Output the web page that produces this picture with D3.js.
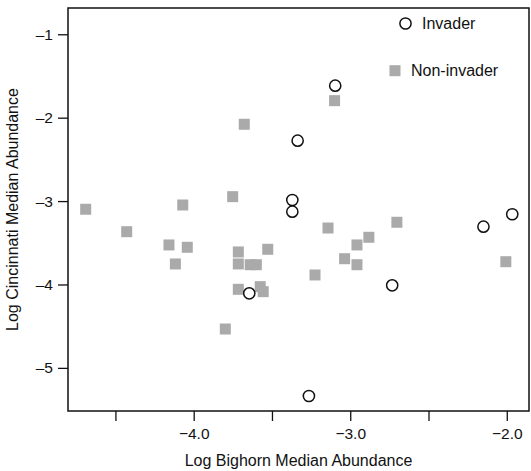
<!DOCTYPE html>
<html>
<head>
<meta charset="utf-8">
<script src="https://cdn.jsdelivr.net/npm/d3@7"></script>
<style>
  body { margin: 0; background: #fff; }
  svg text { font-family: "Liberation Sans", Arial, Helvetica, sans-serif; fill: #111; }
</style>
</head>
<body>
<div id="chart"></div>
<script>
// invaders (open circles)
var invaderX = [-3.096, -3.336, -3.370, -3.370, -3.645, -2.732, -2.149, -1.965, -3.264];
var invaderY = [-1.616, -2.276, -2.987, -3.127, -4.106, -4.010, -3.307, -3.158, -5.337];

// non-invaders (grey squares)
var nonInvX = [-4.690, -4.428, -4.158, -4.117, -4.041, -4.070, -3.751, -3.677, -3.715,
               -3.715, -3.639, -3.600, -3.527, -3.715, -3.575, -3.556, -3.798, -3.100,
               -3.142, -3.225, -2.957, -2.881, -3.036, -2.957, -2.702, -2.006];
var nonInvY = [-3.098, -3.367, -3.526, -3.754, -3.554, -3.047, -2.947, -2.079, -3.610,
               -3.754, -3.763, -3.763, -3.578, -4.058, -4.026, -4.086, -4.534, -1.796,
               -3.323, -3.886, -3.526, -3.434, -3.691, -3.763, -3.254, -3.727];

var xTicks = [-4.5, -4.0, -3.5, -3.0, -2.5, -2.0];
var xTickLabels = [-4.0, -3.0, -2.0];
var yTicks = [-1, -2, -3, -4, -5];
var legendNames = ["Invader", "Non-invader"];

var width = 531, height = 471;
var margin = {left: 68, right: 2, top: 8, bottom: 60};

var svg = d3.select("#chart")
    .append("svg")
    .attr("width", width)
    .attr("height", height);

var x = d3.scaleLinear()
    .domain([-4.803, -1.858])
    .range([margin.left, width - margin.right]);
var y = d3.scaleLinear()
    .domain([-5.517, -0.685])
    .range([height - margin.bottom, margin.top]);

// x axis
var xAxis = d3.axisBottom(x)
    .tickValues(xTicks)
    .tickSize(10)
    .tickFormat(d => xTickLabels.indexOf(d) >= 0 ? d3.format(".1f")(d).replace("-", "\u2013") : "");
var xg = svg.append("g")
    .attr("transform", "translate(0," + (height - margin.bottom) + ")")
    .call(xAxis);
xg.select(".domain").remove();
xg.selectAll("line").attr("stroke", "#111").attr("stroke-width", 1.3);
xg.selectAll("text").attr("font-size", 15.5).attr("dy", "0.95em").attr("fill", "#111");

// y axis
var yAxis = d3.axisLeft(y)
    .tickValues(yTicks)
    .tickSize(10)
    .tickFormat(d => String(d).replace("-", "\u2013"));
var yg = svg.append("g")
    .attr("transform", "translate(" + margin.left + ",0)")
    .call(yAxis);
yg.select(".domain").remove();
yg.selectAll("line").attr("stroke", "#111").attr("stroke-width", 1.3);
yg.selectAll("text").attr("font-size", 15.5).attr("x", -15).attr("fill", "#111");

// frame
svg.append("rect")
    .attr("x", margin.left)
    .attr("y", margin.top)
    .attr("width", width - margin.right - margin.left)
    .attr("height", height - margin.bottom - margin.top)
    .attr("fill", "none")
    .attr("stroke", "#111")
    .attr("stroke-width", 1.5);

// axis titles
svg.append("text")
    .attr("x", (margin.left + width - margin.right) / 2)
    .attr("y", 466)
    .attr("text-anchor", "middle")
    .attr("font-size", 16)
    .text("Log Bighorn Median Abundance");

svg.append("text")
    .attr("transform", "translate(18," + ((margin.top + height - margin.bottom) / 2) + ") rotate(-90)")
    .attr("text-anchor", "middle")
    .attr("font-size", 16)
    .text("Log Cincinnati Median Abundance");

// points
var sq = 11;
svg.append("g")
    .selectAll("rect")
    .data(d3.range(nonInvX.length))
    .enter()
    .append("rect")
    .attr("x", i => x(nonInvX[i]) - sq / 2)
    .attr("y", i => y(nonInvY[i]) - sq / 2)
    .attr("width", sq)
    .attr("height", sq)
    .attr("fill", "#aaaaaa");

svg.append("g")
    .selectAll("circle")
    .data(d3.range(invaderX.length))
    .enter()
    .append("circle")
    .attr("cx", i => x(invaderX[i]))
    .attr("cy", i => y(invaderY[i]))
    .attr("r", 5.6)
    .attr("fill", "#fff")
    .attr("stroke", "#111")
    .attr("stroke-width", 1.5);

// legend
var lg = svg.append("g");
lg.append("circle")
    .attr("cx", 405.5).attr("cy", 23.5).attr("r", 5.6)
    .attr("fill", "#fff").attr("stroke", "#111").attr("stroke-width", 1.5);
lg.append("text")
    .attr("x", 422).attr("y", 23.5).attr("dy", "0.35em")
    .attr("font-size", 16)
    .text(legendNames[0]);
lg.append("rect")
    .attr("x", 395 - sq / 2).attr("y", 70.7 - sq / 2)
    .attr("width", sq).attr("height", sq)
    .attr("fill", "#aaaaaa");
lg.append("text")
    .attr("x", 411).attr("y", 70.7).attr("dy", "0.35em")
    .attr("font-size", 16)
    .text(legendNames[1]);
</script>
</body>
</html>
